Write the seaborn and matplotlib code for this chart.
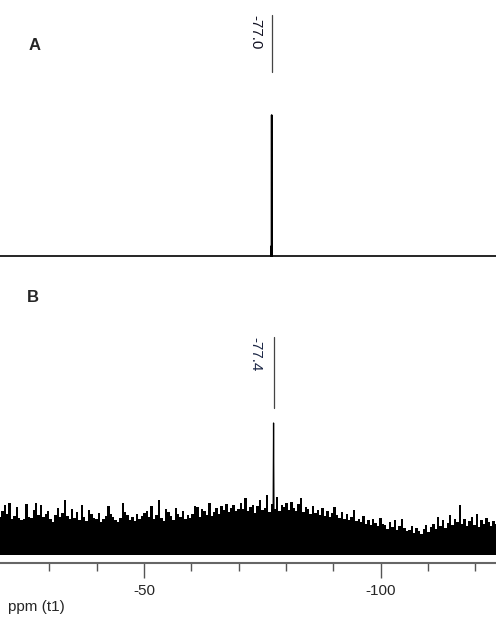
import numpy as np
import pandas as pd
import matplotlib
matplotlib.use("Agg")
import matplotlib.pyplot as plt
import seaborn as sns

sns.set_style("white")
plt.rcParams['font.family'] = ['Liberation Sans', 'DejaVu Sans']

# 谱图 A：尖锐单峰 (-77.0 ppm)，基线平坦
ppm_a = [-19.6, -76.8, -76.9, -76.93, -76.96, -76.98, -77.0, -77.02, -77.2, -124.4]
int_a = [0, 0, 0, 10, 0, 0, 141, 0, 0, 0]

# 谱图 B：宽噪声 + 单峰 (-77.4 ppm)
noise_b = [
    38, 44, 50, 41, 52, 36, 39, 48, 37, 35,
    36, 51, 38, 37, 45, 52, 40, 50, 38, 41,
    44, 36, 33, 40, 47, 38, 42, 55, 39, 36,
    46, 37, 43, 35, 50, 38, 34, 45, 41, 37,
    36, 42, 33, 36, 39, 49, 41, 38, 35, 33,
    37, 52, 43, 40, 35, 38, 34, 41, 36, 39,
    42, 44, 38, 49, 36, 40, 55, 37, 34, 46,
    43, 39, 35, 47, 41, 38, 44, 36, 40, 37,
    41, 49, 48, 38, 46, 44, 40, 52, 39, 43,
    47, 41, 49, 45, 51, 43, 47, 50, 44, 46,
    52, 46, 57, 44, 48, 50, 42, 49, 55, 45,
    47, 60, 43, 51, 46, 58, 44, 50, 48, 52,
    45, 53, 47, 44, 51, 57, 43, 48, 46, 41,
    49, 42, 45, 40, 47, 39, 44, 38, 42, 48,
    40, 37, 43, 36, 41, 35, 38, 45, 34, 36,
    33, 39, 31, 35, 30, 36, 32, 29, 37, 31,
    30, 26, 33, 28, 35, 25, 29, 36, 27, 24,
    25, 29, 22, 27, 24, 21, 26, 30, 23, 28,
    31, 26, 38, 29, 35, 27, 32, 40, 30, 36,
    33, 50, 31, 36, 29, 34, 38, 30, 41, 28,
    35, 31, 37, 33, 29, 34, 31,
]
ppm_b = np.linspace(-19.6, -124.4, len(noise_b))
peak_b_ppm = [-77.3, -77.4, -77.5]
peak_b_int = [30, 132, 30]

labels = ["A", "B"]
peak_labels = ["-77.0", "-77.4"]
peak_pos = [-77.0, -77.4]

W, H = 496, 623
fig = plt.figure(figsize=(W / 100, H / 100), dpi=100)

def px_axes(top, bottom):
    return fig.add_axes([0, 1 - bottom / H, 1, (bottom - top) / H])

xlim = (-19.6, -124.4)

# ---- A ----
ax_a = px_axes(0, 262)
df_a = pd.DataFrame({'ppm': ppm_a, 'intensity': int_a})
sns.lineplot(data=df_a, x='ppm', y='intensity', ax=ax_a, color='black', lw=1.2)
ax_a.set_xlim(*xlim)
ax_a.set_ylim(-6, 256)
ax_a.axis('off')
ax_a.plot([peak_pos[0], peak_pos[0]], [184, 241], color='#444444', lw=0.9)
ax_a.text(-73.6, 241, peak_labels[0], rotation=270, ha='center', va='top',
          fontsize=11, color='#111122')

# ---- B ----
ax_b = px_axes(262, 563)
ax_b.fill_between(ppm_b, 0, noise_b, step='mid', color='black', lw=0)
df_peak = pd.DataFrame({'ppm': peak_b_ppm, 'intensity': peak_b_int})
sns.lineplot(data=df_peak, x='ppm', y='intensity', ax=ax_b, color='black', lw=0.9)
ax_b.set_xlim(*xlim)
ax_b.set_ylim(-8, 293)
ax_b.plot([peak_pos[1], peak_pos[1]], [147, 218], color='#444444', lw=0.9)
ax_b.text(-73.6, 218, peak_labels[1], rotation=270, ha='center', va='top',
          fontsize=11, color='#1a2544')

for s in ['top', 'left', 'right']:
    ax_b.spines[s].set_visible(False)
ax_b.spines['bottom'].set_color('#666666')
ax_b.spines['bottom'].set_linewidth(1.5)
ax_b.set_yticks([])
ax_b.set_xticks([-50, -100])
ax_b.set_xticklabels(['-50', '-100'])
ax_b.set_xticks(np.arange(-30, -121, -10), minor=True)
ax_b.tick_params(axis='x', which='major', direction='out', length=11, width=1,
                 color='#555555', labelsize=11, pad=4, bottom=True)
ax_b.tick_params(axis='x', which='minor', direction='out', length=5.5, width=1,
                 color='#555555', bottom=True)
ax_b.set_xlabel('')
ax_b.set_ylabel('')

fig.text(35 / W, 1 - 46 / H, labels[0], fontsize=12, fontweight='bold',
         ha='center', va='center')
fig.text(33 / W, 1 - 298 / H, labels[1], fontsize=12, fontweight='bold',
         ha='center', va='center')
fig.text(8 / W, 1 - 607 / H, 'ppm (t1)', fontsize=11, ha='left', va='center')

fig.savefig('out.png', dpi=100)
